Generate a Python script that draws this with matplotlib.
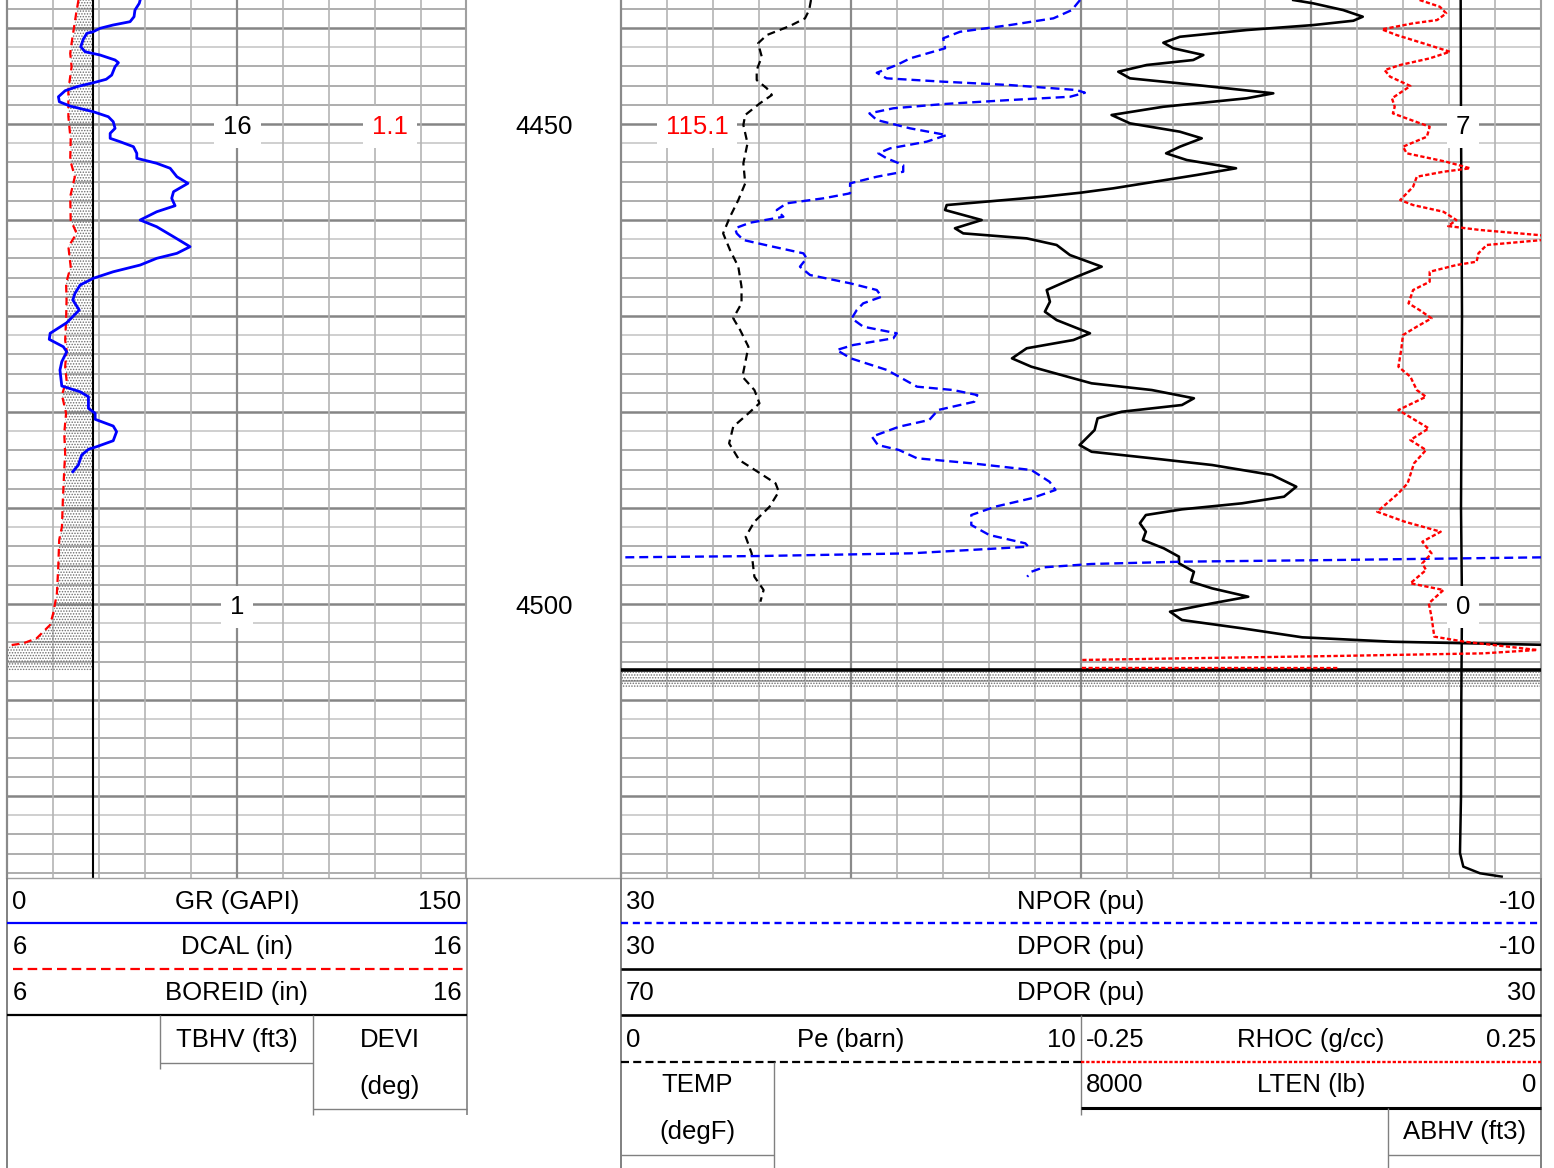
import numpy as np
import matplotlib
matplotlib.use("Agg")
import matplotlib.pyplot as plt
import matplotlib.transforms as mtransforms

plt.rcParams['font.family'] = ['Liberation Sans', 'DejaVu Sans']
plt.rcParams['hatch.linewidth'] = 0.7
plt.rcParams['hatch.color'] = '#6e6e6e'
plt.rcParams['lines.solid_joinstyle'] = 'round'
plt.rcParams['lines.dash_joinstyle'] = 'round'

# ---------------------------------------------------------------- data
DEPTH_TOP, DEPTH_BOTTOM = 4437.08, 4528.49
depth_labels = [4450, 4500]

gr_scale = (0, 150)
cal_scale = (6, 16)
por_scale = (30, -10)
por_backup_scale = (70, 30)
pe_scale = (0, 10)
rhoc_scale = (-0.25, 0.25)
lten_scale = (8000, 0)

gr_depth = [4437.08, 4437.43, 4438.13, 4438.82, 4439.34, 4439.69, 4440.03, 4440.39, 4440.55, 4441.18,
            4441.95, 4442.47, 4442.81, 4443.33, 4443.61, 4444.03, 4444.90, 4445.34, 4445.70, 4446.11,
            4446.53, 4447.16, 4447.68, 4448.13, 4448.72, 4449.24, 4449.76, 4450.45, 4450.97, 4451.49,
            4451.84, 4452.36, 4453.05, 4453.57, 4454.09, 4454.61, 4455.49, 4456.18, 4457.05, 4457.74,
            4458.51, 4459.14, 4460.00, 4460.70, 4461.74, 4462.78, 4463.47, 4463.99, 4464.69, 4465.39,
            4466.07, 4466.77, 4467.64, 4468.33, 4468.68, 4469.38, 4470.70, 4471.80, 4472.43, 4473.20,
            4473.72, 4474.76, 4475.63, 4477.29, 4477.89, 4478.41, 4479.61, 4480.14, 4480.76, 4481.46,
            4482.05, 4482.99, 4483.61, 4483.89, 4484.48, 4485.52, 4486.22]
gr = [43.4, 43.1, 41.7, 41.4, 40.1, 34.5, 30.3, 28.0, 26.0, 24.8,
      24.0, 25.4, 30.3, 35.2, 36.3, 35.2, 34.1, 32.3, 28.1, 22.7,
      18.9, 16.7, 17.0, 20.5, 28.1, 33.0, 34.6, 35.2, 33.6, 33.6,
      36.8, 41.2, 42.3, 42.3, 48.8, 53.2, 55.4, 59.0, 54.3, 53.7,
      54.8, 48.8, 43.4, 48.8, 54.3, 59.7, 55.4, 48.8, 43.4, 34.6,
      28.1, 23.8, 22.1, 21.4, 22.1, 23.5, 19.4, 14.0, 13.7, 18.3,
      19.4, 17.8, 17.2, 17.8, 23.8, 26.5, 26.5, 28.7, 28.7, 34.6,
      35.7, 34.6, 29.2, 26.5, 24.3, 23.2, 21.4]

dcal_depth = [4437.08, 4438.47, 4441.59, 4442.64, 4444.03, 4446.46, 4449.24, 4451.67, 4453.75, 4455.49,
              4457.57, 4460.00, 4461.39, 4462.78, 4464.86, 4466.59, 4468.33, 4470.42, 4472.50, 4473.54,
              4475.28, 4476.67, 4478.23, 4480.14, 4482.22, 4484.30, 4486.04, 4489.17, 4491.95, 4493.33,
              4496.11, 4498.89, 4500.97, 4502.19, 4503.57, 4504.09, 4504.27, 4504.60, 4506.90]
dcal = [7.55, 7.50, 7.40, 7.37, 7.40, 7.33, 7.33, 7.38, 7.37, 7.47,
        7.37, 7.38, 7.51, 7.33, 7.38, 7.28, 7.29, 7.28, 7.26, 7.29,
        7.26, 7.29, 7.19, 7.28, 7.24, 7.26, 7.24, 7.21, 7.19, 7.13,
        7.11, 7.08, 7.00, 6.93, 6.64, 6.35, 6.10, 5.80, 5.80]

boreid_depth = [DEPTH_TOP, DEPTH_BOTTOM]
boreid = [7.875, 7.875]

npor_depth = [4437.08, 4438.13, 4438.99, 4439.69, 4440.39, 4441.07, 4442.11, 4443.16, 4443.85, 4444.66,
              4445.24, 4445.59, 4445.94, 4446.46, 4446.74, 4447.16, 4447.50, 4447.92, 4448.36, 4448.89,
              4449.58, 4450.45, 4451.15, 4451.84, 4452.53, 4453.05, 4453.57, 4454.27, 4454.97, 4455.49,
              4456.18, 4457.22, 4457.74, 4458.26, 4458.96, 4459.66, 4460.28, 4460.86, 4461.39, 4462.08,
              4462.71, 4463.47, 4463.99, 4464.86, 4465.73, 4466.59, 4467.29, 4467.99, 4468.68, 4469.38,
              4470.24, 4471.11, 4471.80, 4472.32, 4473.02, 4473.54, 4474.41, 4475.62, 4476.67, 4477.36,
              4477.71, 4478.23, 4478.93, 4479.79, 4480.83, 4481.53, 4482.57, 4483.44, 4483.96, 4484.82,
              4485.34, 4486.04, 4487.26, 4488.12, 4488.99, 4489.86, 4490.73, 4491.77, 4492.81, 4493.68,
              4494.03, 4494.72, 4495.00, 4495.14, 4495.42, 4495.59, 4495.83, 4496.18, 4496.64, 4497.16]
npor = [10.04, 10.40, 11.20, 13.09, 15.26, 15.99, 15.91, 17.43, 18.01, 18.88,
        18.45, 15.99, 13.09, 10.19, 9.83, 10.48, 13.09, 15.99, 18.16, 19.20,
        18.88, 17.43, 15.84, 16.71, 18.30, 18.81, 18.45, 17.73, 17.73, 18.88,
        20.04, 20.04, 21.20, 22.80, 23.23, 22.94, 24.39, 25.04, 24.97, 24.68,
        23.52, 22.07, 21.93, 22.22, 21.78, 20.04, 18.88, 18.67, 19.47, 19.75,
        19.97, 19.47, 18.01, 18.16, 19.90, 20.62, 20.01, 18.44, 17.65, 17.13,
        15.56, 14.51, 14.64, 16.21, 16.60, 17.91, 19.09, 18.83, 17.91, 17.13,
        14.77, 12.16, 11.37, 11.11, 12.16, 13.73, 14.77, 14.77, 13.99, 12.42,
        12.29, 17.39, 23.93, 30.00, 39.07, 45.61, 49.54, 51.63, 52.16, 52.34]

dpor_depth = [4437.08, 4437.43, 4438.13, 4438.82, 4439.24, 4439.69, 4440.21, 4440.91, 4441.53, 4442.11,
              4442.81, 4443.33, 4443.85, 4444.55, 4445.24, 4445.94, 4446.80, 4447.32, 4448.20, 4449.06,
              4449.93, 4450.80, 4451.49, 4452.36, 4453.05, 4453.75, 4454.61, 4455.31, 4456.70, 4457.16,
              4457.57, 4458.44, 4458.96, 4460.00, 4460.86, 4461.39, 4461.91, 4462.60, 4463.65, 4464.86,
              4465.91, 4467.29, 4468.51, 4469.55, 4470.42, 4471.80, 4472.50, 4473.36, 4474.41, 4475.28,
              4476.32, 4477.01, 4477.71, 4478.57, 4479.27, 4479.97, 4480.66, 4481.88, 4483.44, 4484.14,
              4484.82, 4485.52, 4486.56, 4487.78, 4488.82, 4489.51, 4490.14, 4490.73, 4491.59, 4492.47,
              4493.33, 4494.20, 4495.07, 4495.76, 4496.64, 4497.68, 4498.37, 4499.24, 4499.93, 4500.80,
              4501.67, 4502.53, 4503.47, 4503.93, 4504.27]
dpor = [0.77, -0.10, -1.40, -2.25, -1.84, -0.10, 2.80, 5.70, 6.42, 5.99,
        4.68, 5.12, 7.14, 8.38, 7.87, 4.97, 1.64, 2.80, 6.42, 8.67,
        7.87, 5.70, 4.75, 5.70, 6.30, 5.40, 3.26, 4.97, 8.60, 10.04,
        11.64, 15.84, 15.91, 14.32, 15.48, 15.12, 12.36, 11.06, 10.48, 9.10,
        10.19, 11.49, 11.35, 11.57, 11.06, 9.61, 10.33, 12.36, 13.00, 12.16,
        10.59, 9.54, 6.92, 5.09, 5.61, 8.23, 9.28, 9.41, 10.06, 9.54,
        6.92, 4.30, 1.69, 0.64, 1.17, 3.00, 5.61, 7.18, 7.44, 7.18,
        7.31, 6.40, 5.74, 5.74, 5.09, 5.22, 4.30, 2.73, 4.30, 6.13,
        5.61, 3.00, 0.38, -3.55, -10.50]

pe_depth = [4437.08, 4438.13, 4438.99, 4439.79, 4440.73, 4441.59, 4442.99, 4444.38, 4445.42, 4446.28,
            4446.98, 4447.84, 4449.06, 4450.10, 4452.01, 4454.09, 4456.18, 4457.92, 4459.66, 4461.39,
            4463.13, 4464.86, 4466.95, 4468.68, 4470.24, 4471.46, 4473.20, 4476.32, 4477.71, 4479.09,
            4480.14, 4481.53, 4483.26, 4485.00, 4486.22, 4487.43, 4488.30, 4489.86, 4491.43, 4492.99,
            4494.72, 4497.16, 4498.54, 4499.76]
pe = [4.13, 4.09, 4.00, 3.67, 3.17, 2.98, 3.06, 2.95, 2.95, 3.17,
      3.28, 3.02, 2.70, 2.66, 2.75, 2.66, 2.70, 2.55, 2.37, 2.22,
      2.37, 2.55, 2.62, 2.62, 2.44, 2.59, 2.77, 2.64, 2.90, 3.01,
      2.77, 2.44, 2.35, 2.57, 2.97, 3.36, 3.43, 3.23, 2.90, 2.71,
      2.84, 2.90, 3.10, 3.03]

rhoc_depth = [4437.08, 4437.78, 4438.47, 4439.17, 4439.51, 4440.14, 4440.73, 4441.59, 4442.47, 4443.16,
              4443.85, 4444.38, 4445.07, 4446.04, 4447.32, 4448.20, 4448.89, 4449.66, 4450.28, 4451.32,
              4452.36, 4453.05, 4453.93, 4454.61, 4454.97, 4455.49, 4456.53, 4457.92, 4458.44, 4459.14,
              4460.00, 4460.63, 4461.04, 4461.67, 4462.01, 4462.60, 4463.47, 4464.34, 4464.69, 4465.39,
              4466.43, 4467.29, 4468.68, 4469.38, 4470.24, 4471.11, 4471.98, 4473.54, 4475.28, 4476.32,
              4477.71, 4478.41, 4479.79, 4481.70, 4482.92, 4483.96, 4485.34, 4487.43, 4488.47, 4490.39,
              4491.43, 4492.47, 4493.51, 4494.72, 4495.76, 4496.46, 4497.84, 4498.54, 4499.93, 4501.32,
              4503.40, 4503.93, 4504.79, 4505.14, 4505.42, 4505.66, 4505.83, 4506.30, 4506.66, 4506.67]
rhoc = [0.118, 0.140, 0.147, 0.137, 0.111, 0.077, 0.093, 0.122, 0.151, 0.129,
        0.097, 0.080, 0.086, 0.108, 0.088, 0.091, 0.089, 0.111, 0.129, 0.126,
        0.100, 0.104, 0.147, 0.173, 0.144, 0.115, 0.111, 0.097, 0.111, 0.144,
        0.158, 0.149, 0.184, 0.260, 0.260, 0.191, 0.182, 0.180, 0.158, 0.129,
        0.129, 0.111, 0.106, 0.118, 0.131, 0.115, 0.100, 0.098, 0.095, 0.108,
        0.115, 0.125, 0.095, 0.128, 0.108, 0.125, 0.112, 0.105, 0.095, 0.072,
        0.102, 0.141, 0.121, 0.131, 0.121, 0.125, 0.108, 0.144, 0.128, 0.131,
        0.134, 0.167, 0.246, 0.187, 0.023, -0.140, -0.248, -0.320, -0.320, 0.029]

lten_depth = [4437.08, 4450.0, 4460.0, 4470.0, 4480.0, 4490.0, 4500.0, 4510.0, 4520.0,
              4525.94, 4527.36, 4528.05, 4528.40]
lten = [1397, 1391, 1382, 1374, 1382, 1391, 1374, 1386, 1391, 1409, 1351, 1061, 684]

casing_line_depth = 4506.85
casing_band = (4507.10, 4508.75)
cal_fill_bottom = 4506.90

# annotations: text, reference scale, value, depth, colour
annotations = [("16", "gr", 75.1, 4450, "black"),
               ("1.1", "gr", 125.0, 4450, "#ff0000"),
               ("1", "gr", 75.1, 4500, "black"),
               ("115.1", "por", 26.7, 4450, "#ff0000"),
               ("7", "rhoc", 0.165, 4450, "black"),
               ("0", "rhoc", 0.165, 4500, "black")]

track1_rows = [("0", "GR (GAPI)", "150"), ("6", "DCAL (in)", "16"), ("6", "BOREID (in)", "16")]
track2_rows = [("30", "NPOR (pu)", "-10"), ("30", "DPOR (pu)", "-10"), ("70", "DPOR (pu)", "30")]

# ---------------------------------------------------------------- layout
W, H = 1554.0, 1168.0
PB = 877.5                  # bottom of the plotting area (px)
T1 = (7.3, 466.5)
TD = (466.5, 621.0)
T2 = (621.0, 1541.0)
T2_MID = 1081.0
FS = 18.5
BLUE, RED = '#0000ff', '#ff0000'

fig = plt.figure(figsize=(W / 100, H / 100), dpi=100)


def rect(x0, x1):
    return [x0 / W, 1 - PB / H, (x1 - x0) / W, PB / H]


def base_track(x0, x1, xlim):
    ax = fig.add_axes(rect(x0, x1))
    ax.set_xlim(*xlim)
    ax.set_ylim(DEPTH_BOTTOM, DEPTH_TOP)
    ax.set_xticks([]); ax.set_yticks([])
    for s in ('top', 'bottom'):
        ax.spines[s].set_visible(False)
    ax.spines['left'].set_color('#8a8a8a'); ax.spines['left'].set_linewidth(1.6)
    ax.spines['right'].set_color('#a0a0a0'); ax.spines['right'].set_linewidth(1.5)
    for d in range(4438, 4529, 2):
        if d % 10 == 0:
            ax.axhline(d, color='#858585', lw=1.8, zorder=1)
        elif d % 10 == 2:
            ax.axhline(d, color='#cfcfcf', lw=1.4, zorder=1)
        else:
            ax.axhline(d, color='#a0a0a0', lw=1.2, zorder=1)
    return ax


def overlay(base, x0, x1, xlim):
    ax = fig.add_axes(rect(x0, x1), sharey=base)
    ax.set_xlim(*xlim)
    ax.axis('off')
    return ax


# ---- track 1
ax1 = base_track(*T1, gr_scale)
for i, v in enumerate(np.linspace(gr_scale[0], gr_scale[1], 11)[1:-1], start=1):
    if i == 5:
        ax1.axvline(v, color='#8a8a8a', lw=1.6, zorder=1)
    else:
        ax1.axvline(v, color='#b4b4b4', lw=1.2, zorder=1)

ax_cal = overlay(ax1, *T1, cal_scale)
dd = np.array(dcal_depth); dv = np.array(dcal)
mask = dd <= cal_fill_bottom
dclip = np.clip(dv[mask], cal_scale[0], None)
ax_cal.fill_betweenx(dd[mask], dclip, boreid[0], where=dclip <= boreid[0],
                     facecolor='none', edgecolor='#6e6e6e', hatch='......', linewidth=0)
ax_cal.plot(boreid, boreid_depth, color='black', lw=1.5)
ax_cal.plot(dcal, dcal_depth, color=RED, lw=1.6, dashes=(3.5, 2.2))

ax_gr = overlay(ax1, *T1, gr_scale)
ax_gr.plot(gr, gr_depth, color=BLUE, lw=2.0)

# ---- depth track
ax_d = fig.add_axes(rect(*TD), sharey=ax1)
ax_d.axis('off')
tr = mtransforms.blended_transform_factory(ax_d.transAxes, ax_d.transData)
for d in depth_labels:
    ax_d.text(0.5, d, str(d), transform=tr, ha='center', va='center_baseline', fontsize=FS)

# ---- track 2
ax2 = base_track(*T2, por_scale)
for i, v in enumerate(np.linspace(por_scale[0], por_scale[1], 21)[1:-1], start=1):
    if i % 5 == 0:
        ax2.axvline(v, color='#8a8a8a', lw=1.6, zorder=1)
    else:
        ax2.axvline(v, color='#b4b4b4', lw=1.2, zorder=1)
ax2.axhspan(casing_band[0], casing_band[1], facecolor='none', edgecolor='#6e6e6e',
            hatch='......', linewidth=0, zorder=1.5)

ax_pe = overlay(ax2, T2[0], T2_MID, pe_scale)
ax_pe.plot(pe, pe_depth, color='black', lw=1.6, dashes=(3.6, 2.3))

ax_dpor = overlay(ax2, *T2, por_scale)
ax_dpor.axhline(casing_line_depth, color='black', lw=2.6)
ax_dpor.plot(dpor, dpor_depth, color='black', lw=1.9)

ax_npor = overlay(ax2, *T2, por_scale)
ax_npor.plot(npor, npor_depth, color=BLUE, lw=1.7, dashes=(3.8, 2.1))
ax_nbk = overlay(ax2, *T2, por_backup_scale)
ax_nbk.plot(npor, npor_depth, color=BLUE, lw=1.7, dashes=(3.8, 2.1))

ax_lten = overlay(ax2, T2_MID, T2[1], lten_scale)
ax_lten.plot(lten, lten_depth, color='black', lw=1.8)

ax_rhoc = overlay(ax2, T2_MID, T2[1], rhoc_scale)
ax_rhoc.plot(rhoc, rhoc_depth, color=RED, lw=1.7, dashes=(1.8, 1.0))

# ---------------------------------------------------------------- header + labels overlay
top = fig.add_axes([0, 0, 1, 1])
top.set_xlim(0, W); top.set_ylim(H, 0)
top.axis('off')

src = {"gr": ax_gr, "por": ax_npor, "rhoc": ax_rhoc}
for s, key, v, d, c in annotations:
    top.text(v, d, s, transform=src[key].transData, ha='center', va='center_baseline',
             fontsize=FS, color=c, zorder=10,
             bbox=dict(facecolor='white', edgecolor='none', pad=6.5))

G = '#808080'


def hline(y, x0, x1, **kw):
    top.plot([x0, x1], [y, y], solid_capstyle='butt', **kw)


def vline(x, y0, y1, **kw):
    top.plot([x, x], [y0, y1], solid_capstyle='butt', **kw)


hline(PB, T1[0], T2[1], color='#a0a0a0', lw=1.0)

# track 1 header
vline(T1[0], PB, H, color=G, lw=1.4)
vline(T1[1], PB, 1115, color=G, lw=1.2)
row_y = [901.7, 947.3, 993.3]
for (l, c, r), y in zip(track1_rows, row_y):
    top.text(T1[0] + 5, y, l, ha='left', va='center', fontsize=FS)
    top.text((T1[0] + T1[1]) / 2, y, c, ha='center', va='center', fontsize=FS)
    top.text(T1[1] - 5, y, r, ha='right', va='center', fontsize=FS)
hline(923, T1[0], T1[1], color=BLUE, lw=1.6)
top.plot([T1[0] + 6, T1[1] - 4], [969, 969], color=RED, lw=1.6, dashes=(4.3, 2.3))
hline(1015, T1[0], T1[1], color='black', lw=1.6)
vline(160, 1015, 1069, color=G, lw=1.0)
hline(1062.7, 160, 313, color=G, lw=1.0)
top.text(236.5, 1040, "TBHV (ft3)", ha='center', va='center', fontsize=FS)
vline(313, 1015, 1115, color=G, lw=1.0)
hline(1108.7, 313, T1[1], color=G, lw=1.0)
top.text(390, 1040, "DEVI", ha='center', va='center', fontsize=FS)
top.text(390, 1086.7, "(deg)", ha='center', va='center', fontsize=FS)

# track 2 header
vline(T2[0], PB, H, color=G, lw=1.4)
vline(T2[1], PB, H, color=G, lw=1.4)
for (l, c, r), y in zip(track2_rows, row_y):
    top.text(T2[0] + 5, y, l, ha='left', va='center', fontsize=FS)
    top.text(T2_MID, y, c, ha='center', va='center', fontsize=FS)
    top.text(T2[1] - 5, y, r, ha='right', va='center', fontsize=FS)
top.plot([T2[0], T2[1]], [922.7, 922.7], color=BLUE, lw=1.7, dashes=(3.0, 2.0))
hline(969, T2[0], T2[1], color='black', lw=1.9)
hline(1015, T2[0], T2[1], color='black', lw=1.9)
vline(T2_MID, 1015, 1115, color=G, lw=1.0)
top.text(T2[0] + 5, 1040, "0", ha='left', va='center', fontsize=FS)
top.text((T2[0] + T2_MID) / 2, 1040, "Pe (barn)", ha='center', va='center', fontsize=FS)
top.text(T2_MID - 5, 1040, "10", ha='right', va='center', fontsize=FS)
top.text(T2_MID + 5, 1040, "-0.25", ha='left', va='center', fontsize=FS)
top.text((T2_MID + T2[1]) / 2, 1040, "RHOC (g/cc)", ha='center', va='center', fontsize=FS)
top.text(T2[1] - 5, 1040, "0.25", ha='right', va='center', fontsize=FS)
top.plot([T2[0], T2_MID], [1061.7, 1061.7], color='black', lw=1.6, dashes=(3.6, 1.9))
top.plot([T2_MID, T2[1]], [1061.7, 1061.7], color=RED, lw=1.7, dashes=(1.4, 0.8))
vline(773.7, 1062, H, color=G, lw=1.0)
hline(1155, T2[0], 773.7, color=G, lw=1.0)
top.text(697, 1085, "TEMP", ha='center', va='center', fontsize=FS)
top.text(697, 1132, "(degF)", ha='center', va='center', fontsize=FS)
top.text(T2_MID + 5, 1085, "8000", ha='left', va='center', fontsize=FS)
top.text((T2_MID + T2[1]) / 2, 1085, "LTEN (lb)", ha='center', va='center', fontsize=FS)
top.text(T2[1] - 5, 1085, "0", ha='right', va='center', fontsize=FS)
hline(1107.7, T2_MID, T2[1], color='black', lw=2.2)
vline(1388.4, 1108, H, color=G, lw=1.0)
hline(1155, 1388.4, T2[1], color=G, lw=1.0)
top.text(1465, 1131.7, "ABHV (ft3)", ha='center', va='center', fontsize=FS)

fig.savefig("out.png", dpi=100)
